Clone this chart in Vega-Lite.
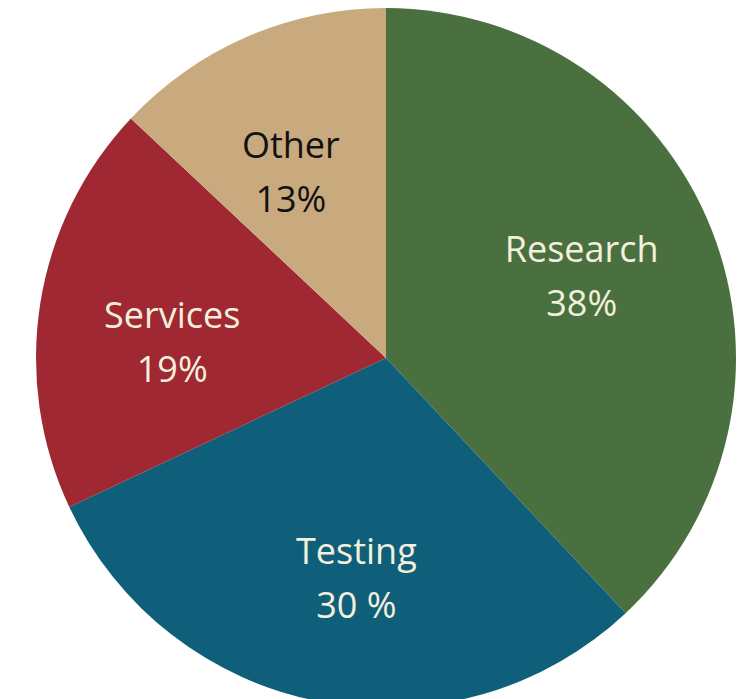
{
  "$schema": "https://vega.github.io/schema/vega-lite/v6.json",
  "width": 720,
  "height": 700,
  "autosize": "none",
  "padding": {"left": 26, "top": 8, "right": 0, "bottom": 0},
  "background": "white",
  "view": {"stroke": null},
  "data": {
    "values": [
      {"category": "Research", "share": 38, "rank": 1, "label": "Research\n38%"},
      {"category": "Testing", "share": 30, "rank": 2, "label": "Testing\n30 %"},
      {"category": "Services", "share": 19, "rank": 3, "label": "Services\n19%"},
      {"category": "Other", "share": 13, "rank": 4, "label": "Other\n13%"}
    ]
  },
  "encoding": {
    "theta": {"field": "share", "type": "quantitative", "stack": true},
    "order": {"field": "rank", "type": "quantitative"}
  },
  "layer": [
    {
      "mark": {"type": "arc", "outerRadius": 350},
      "encoding": {
        "color": {
          "field": "category",
          "type": "nominal",
          "scale": {
            "domain": ["Research", "Testing", "Services", "Other"],
            "range": ["#4a7040", "#0f5f7a", "#a02833", "#c8aa7e"]
          },
          "legend": null
        }
      }
    },
    {
      "mark": {"type": "text", "radius": 215, "thetaOffset": -0.05, "dy": -18, "font": "Open Sans", "fontSize": 36, "lineBreak": "\n", "lineHeight": 54, "align": "center", "baseline": "middle"},
      "encoding": {
        "text": {"field": "label", "type": "nominal"},
        "color": {"condition": {"test": "datum.category === 'Other'", "value": "#111111"}, "value": "#f2f0dc"}
      }
    }
  ]
}
